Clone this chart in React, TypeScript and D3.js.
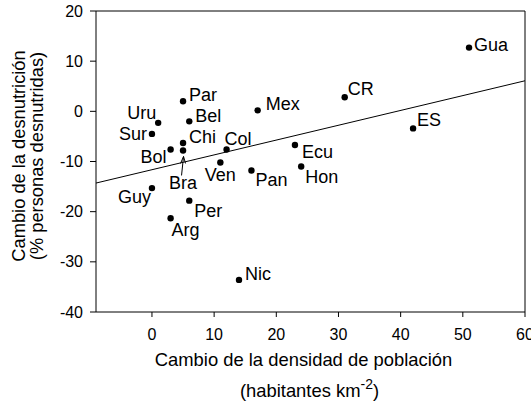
import React from "react";
import * as d3 from "d3";

const countries = ["Par", "Uru", "Bel", "Sur", "Chi", "Bra", "Bol", "Col", "Ven", "Mex", "Pan", "Guy", "Per", "Arg", "Nic", "Gua", "CR", "ES", "Ecu", "Hon"];
const densityChange = [5, 1, 6, 0, 5, 5, 3, 12, 11, 17, 16, 0, 6, 3, 14, 51, 31, 42, 23, 24];
const undernourishChange = [2, -2.3, -2, -4.5, -6.3, -7.8, -7.6, -7.6, -10.2, 0.2, -11.8, -15.3, -17.8, -21.3, -33.6, 12.7, 2.8, -3.4, -6.7, -11];
const xTicks = [0, 10, 20, 30, 40, 50, 60];
const yTicks = [-40, -30, -20, -10, 0, 10, 20];

// label placement (style): dx, dy, anchor
const labelPlacement: Record<string, [number, number, string]> = {
  Par: [6, 0, "start"],
  Uru: [-2, -4, "end"],
  Bel: [6, 1, "start"],
  Sur: [-5, 6, "end"],
  Chi: [6, 0, "start"],
  Bra: [0, 39, "middle"],
  Bol: [-4, 14, "end"],
  Col: [-2, -4, "start"],
  Ven: [0, 18, "middle"],
  Mex: [8, 0, "start"],
  Pan: [4, 15, "start"],
  Guy: [-1, 15, "end"],
  Per: [5, 16, "start"],
  Arg: [1, 18, "start"],
  Nic: [6, 0, "start"],
  Gua: [5, 3, "start"],
  CR: [3, -2, "start"],
  ES: [4, -2, "start"],
  Ecu: [7, 13, "start"],
  Hon: [4, 16, "start"],
};

const W = 531, H = 407;
const M = { left: 96, top: 11, right: 6, bottom: 95 };
const FONT = "'Liberation Sans', Arial, sans-serif";

export default function App() {
  const x = d3.scaleLinear().domain([-9, 60]).range([M.left, W - M.right]);
  const y = d3.scaleLinear().domain([-40, 20]).range([H - M.bottom, M.top]);
  const data = countries.map((c, i) => ({ c, x: densityChange[i], y: undernourishChange[i] }));
  const mx = d3.mean(densityChange)!;
  const my = d3.mean(undernourishChange)!;
  const sxy = d3.sum(data, (d) => (d.x - mx) * (d.y - my));
  const sxx = d3.sum(data, (d) => (d.x - mx) ** 2);
  const slope = sxy / sxx;
  const icpt = my - slope * mx;
  const [x0, x1] = x.domain();
  const line = d3.line<number>().x((v) => x(v)).y((v) => y(icpt + slope * v));
  const bra = data.find((d) => d.c === "Bra")!;
  const x0px = M.left, x1px = W - M.right, y0px = H - M.bottom, y1px = M.top;

  return (
    <svg width={W} height={H} style={{ position: "absolute", left: 0, top: 0, fontFamily: FONT }}>
      <rect x={0} y={0} width={W} height={H} fill="#fff" />
      <path d={line([x0, x1])!} stroke="#000" strokeWidth={1} fill="none" />
      {/* frame */}
      <line x1={x0px} x2={x1px} y1={y1px} y2={y1px} stroke="#000" />
      <line x1={x1px} x2={x1px} y1={y1px} y2={y0px} stroke="#000" />
      <line x1={x0px} x2={x0px} y1={y1px} y2={y0px} stroke="#000" />
      <line x1={x0px} x2={x1px} y1={y0px} y2={y0px} stroke="#000" />
      {yTicks.map((t) => (
        <g key={"y" + t}>
          <line x1={x0px - 6} x2={x0px} y1={y(t)} y2={y(t)} stroke="#000" />
          <text x={x0px - 13} y={y(t)} dy="0.35em" textAnchor="end" fontSize={16}>{t}</text>
        </g>
      ))}
      {xTicks.map((t) => (
        <g key={"x" + t}>
          <line x1={x(t)} x2={x(t)} y1={y0px} y2={y0px + 5} stroke="#000" />
          <text x={x(t)} y={y0px + 28} textAnchor="middle" fontSize={16}>{t}</text>
        </g>
      ))}
      {data.map((d) => {
        const [dx, dy, anchor] = labelPlacement[d.c];
        return (
          <g key={d.c}>
            <circle cx={x(d.x)} cy={y(d.y)} r={3.2} fill="#000" />
            <text x={x(d.x) + dx} y={y(d.y) + dy} textAnchor={anchor} fontSize={18}>{d.c}</text>
          </g>
        );
      })}
      {/* Bra arrow */}
      <g stroke="#000" strokeWidth={1} fill="none">
        <line x1={x(bra.x) - 1.5} y1={y(bra.y) + 25} x2={x(bra.x) + 0.5} y2={y(bra.y) + 6} />
        <polyline points={`${x(bra.x) - 2.5},${y(bra.y) + 13} ${x(bra.x) + 0.5},${y(bra.y) + 6} ${x(bra.x) + 2.5},${y(bra.y) + 13}`} />
      </g>
      <text x={303.5} y={366} textAnchor="middle" fontSize={18.4}>Cambio de la densidad de población</text>
      <text x={309.5} y={397} textAnchor="middle" fontSize={18.4}>
        (habitantes km<tspan dy={-8} fontSize={14}>-2</tspan><tspan dy={8}>)</tspan>
      </text>
      <g transform={`translate(25, 156) rotate(-90)`}>
        <text x={0} y={0} textAnchor="middle" fontSize={18.3}>Cambio de la desnutrición</text>
        <text x={0} y={18} textAnchor="middle" fontSize={18.3}>(% personas desnutridas)</text>
      </g>
    </svg>
  );
}
